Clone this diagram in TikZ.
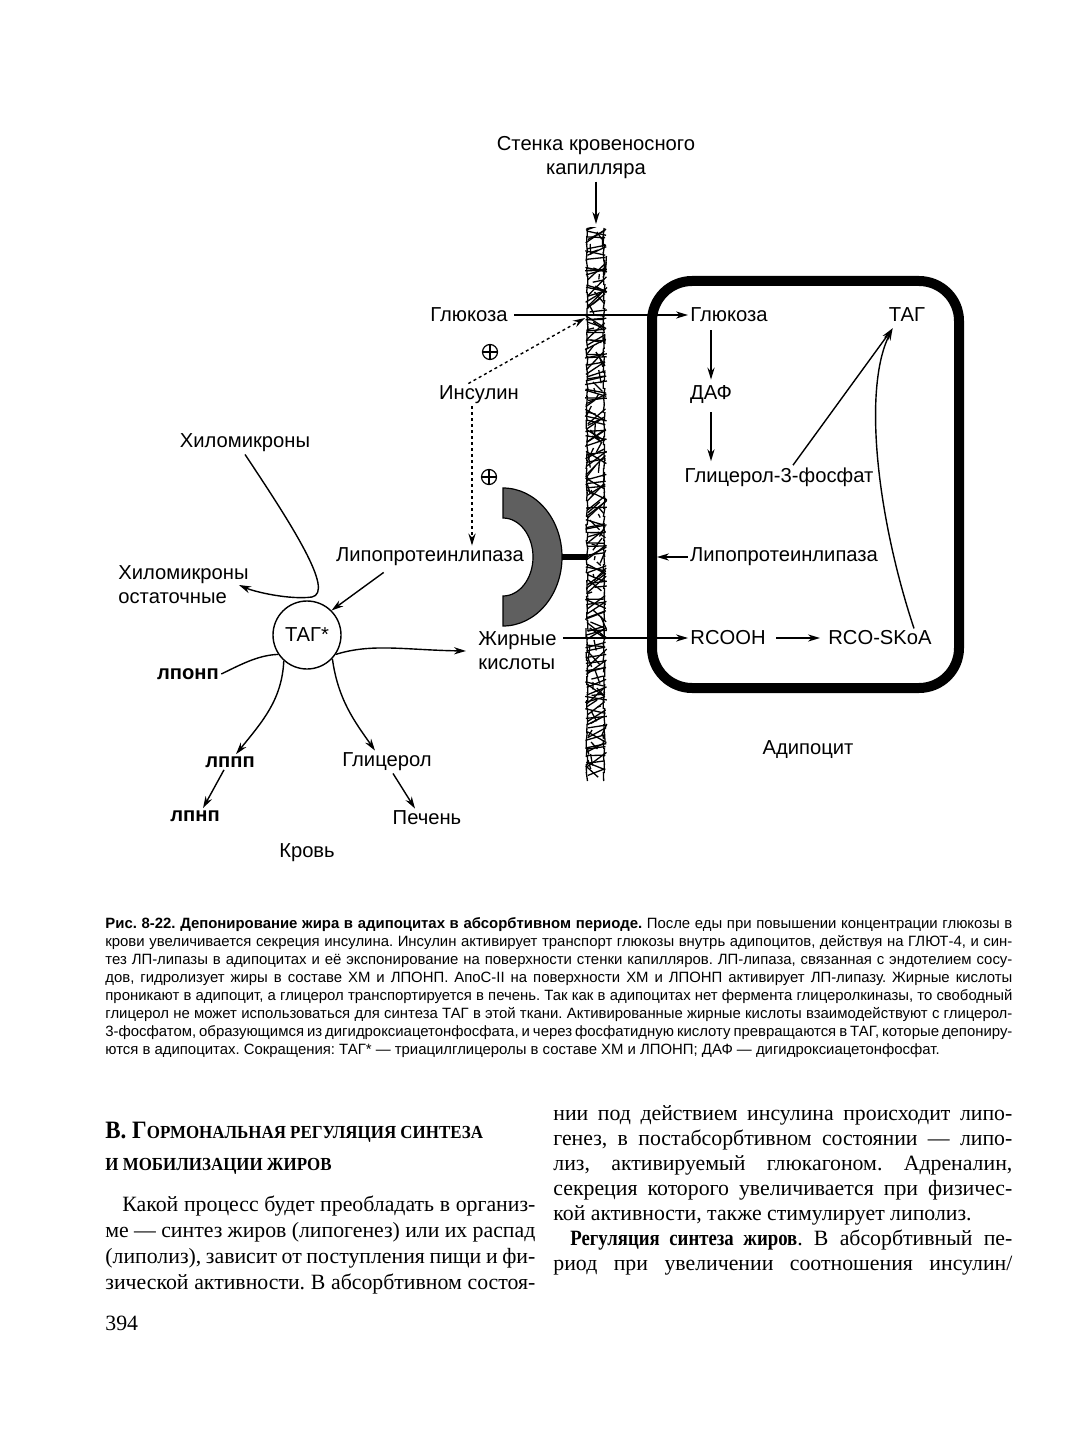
\documentclass[tikz,border=0pt]{standalone}
\usepackage{fontspec}
\setmainfont{Liberation Serif}
\setsansfont{Liberation Sans}
\newfontfamily\headfont{Liberation Serif}[FakeStretch=0.92]
\newfontfamily\runinfont{Liberation Serif}[FakeStretch=0.86]
\usetikzlibrary{arrows.meta}
\tolerance=9999
\hyphenpenalty=10000
\exhyphenpenalty=10000
\frenchspacing
\newcommand{\fulljust}{\hspace{0pt plus -1fil}\null}
\tikzset{
  lbl/.style={font=\sffamily\fontsize{10.1}{12}\selectfont, inner sep=1pt},
  boldlbl/.style={font=\sffamily\bfseries\fontsize{10.1}{12}\selectfont, inner sep=1pt},
  conn/.style={->, line width=0.7pt},
  insulin/.style={->, line width=0.7pt, dash pattern=on 1.5pt off 1.5pt},
  fibre/.style={line width=0.65pt},
  plus/.style={circle, draw, line width=0.6pt, minimum size=7.5pt, inner sep=0pt,
    path picture={\draw[line width=0.6pt] (path picture bounding box.north) -- (path picture bounding box.south)
      (path picture bounding box.west) -- (path picture bounding box.east);}},
  bodytext/.style={anchor=north west, inner sep=0pt, align=justify, font=\fontsize{10.9}{13}\selectfont}
}
\begin{document}
\begin{tikzpicture}[x=0.5pt, y=-0.5pt, >={Stealth[length=6pt,width=3.6pt]}]
			\definecolor{lipase}{RGB}{95,95,95}
			\useasboundingbox (0,0) rectangle (1077,1443);
			% capillary wall
			\node[lbl, align=center] (wall) at (596,158) {Стенка кровеносного\\капилляра};
			\coordinate (walltop) at (596,224);
			\draw[conn] (wall.south) -- (walltop);
			\begin{scope}
				\clip (583,228) rectangle (608,781);
				\pgfmathsetseed{11}
				\foreach \k in {0,...,136}
					\draw[fibre] ({585+3*rnd},{226+4*\k+6*rnd}) -- ({607-3*rnd},{211+4*\k+30*rnd});
				\foreach \k in {0,...,90}
					\draw[fibre] ({585+22*rnd},{226+6*\k}) -- ({585+22*rnd},{226+6*\k+14*rnd});
				\foreach \k in {0,...,68}
					\draw[fibre] ({586+2*rnd},{228+8*\k}) -- ({586+2*rnd},{237+8*\k})
						({605-2*rnd},{228+8*\k}) -- ({605-2*rnd},{237+8*\k});
			\end{scope}
			% adipocyte
			\draw[line width=5pt, rounded corners=20pt] (652,281) rectangle (959,688);
			% lipoprotein lipase on the wall
			\filldraw[fill=lipase, line width=0.6pt] (503,488) arc[start angle=-90, end angle=90, x radius=59, y radius=69]
				-- (503,596) arc[start angle=90, end angle=-90, x radius=30, y radius=39] -- cycle;
			\draw[line width=3pt] (562,557) -- (588,557);
			% blood side
			\node[lbl] (glc1) at (469,315) {Глюкоза};
			\node[plus] (plus1) at (490,352) {};
			\node[lbl] (ins) at (479,395) {Инсулин};
			\node[plus] (plus2) at (489,477) {};
			\node[lbl] (lpl1) at (430,557) {Липопротеинлипаза};
			\node[lbl] (chylo) at (245,443) {Хиломикроны};
			\node[lbl, align=left, anchor=west] (remn) at (116,585) {Хиломикроны\\остаточные};
			\node[lbl, circle, draw, line width=0.7pt, minimum size=34pt] (tag1) at (307,635) {ТАГ*};
			\node[boldlbl] (lponp) at (188,674) {лпонп};
			\node[boldlbl] (lppp) at (230,762) {лппп};
			\node[boldlbl] (lpnp) at (195,816) {лпнп};
			\node[lbl] (glyc) at (387,762) {Глицерол};
			\node[lbl] (liver) at (427,818) {Печень};
			\node[lbl] (blood) at (307,853) {Кровь};
			\node[lbl, align=left, anchor=west] (fa) at (476,651) {Жирные\\кислоты};
			% adipocyte side
			\node[lbl] (glc2) at (729,315) {Глюкоза};
			\node[lbl] (tag2) at (907,315) {ТАГ};
			\node[lbl] (daf) at (711,395) {ДАФ};
			\node[lbl] (g3p) at (779,477) {Глицерол-3-фосфат};
			\node[lbl] (lpl2) at (784,557) {Липопротеинлипаза};
			\node[lbl] (rcooh) at (728,638) {RCOOH};
			\node[lbl] (rcoskoa) at (880,638) {RCO-SKoA};
			\node[lbl] (adip) at (808,750) {Адипоцит};
			\coordinate (glcwall) at (585,318);
			\coordinate (cellL) at (657,557);
			% connectors
			\draw[conn, line width=0.6pt, shorten <=2pt] (glc1.east) -- (glc2.west);
			\draw[insulin] (ins.133) -- (glcwall);
			\draw[insulin] ([xshift=-3.5pt]ins.south) -- ([xshift=-3.5pt]ins.south |- lpl1.north);
			\draw[conn] ([xshift=25pt,yshift=-2pt]lpl1.south west) -- (tag1.45);
			\draw[conn] (chylo.south) .. controls (292,525) and (335,592) .. (312,597)
				.. controls (290,600) and (255,592) .. ([xshift=-6pt]remn.east);
			\draw[line width=0.7pt] (lponp.east) .. controls (240,665) and (258,655) .. (tag1.214);
			\draw[conn] (tag1.228) .. controls (282,700) and (262,722) .. ([xshift=3pt]lppp.north);
			\draw[conn] ([xshift=-3pt]lppp.south) -- ([xshift=4pt]lpnp.north);
			\draw[conn] (tag1.-43) .. controls (338,700) and (355,722) .. ([xshift=-6pt]glyc.north);
			\draw[conn] ([xshift=3pt]glyc.south) -- ([xshift=-6pt]liver.north);
			\draw[conn] (tag1.-34) .. controls (372,643) and (405,650) .. ([xshift=-5pt]fa.west);
			\draw[conn, line width=0.6pt, shorten <=2pt] (fa.east |- rcooh.west) -- (rcooh.west);
			\draw[conn, shorten <=4pt, shorten >=3pt] (rcooh.east) -- (rcoskoa.west);
			\draw[conn, line width=0.6pt] (lpl2.west) -- (cellL);
			\draw[conn] ([yshift=-3pt]glc2.south -| daf.north) -- ([yshift=2pt]daf.north);
			\draw[conn] ([yshift=-3pt]daf.south) -- ([yshift=2pt]daf.south |- g3p.north);
			\draw[conn] ([xshift=7pt]g3p.north) -- ([shift={(3pt,-2pt)}]tag2.south west);
			\draw[conn] ([xshift=17pt]rcoskoa.north) .. controls (878,520) and (862,390) .. ([shift={(3pt,-2pt)}]tag2.south west);
			% caption
			\node[anchor=north west, inner sep=0pt, text width=453.5pt, align=justify, font=\sffamily\fontsize{7.45}{9}\selectfont] (caption) at (105,917)
				{\textbf{Рис. 8-22. Депонирование жира в адипоцитах в абсорбтивном периоде.} После еды при повышении концентрации глюкозы в\linebreak
				крови увеличивается секреция инсулина. Инсулин активирует транспорт глюкозы внутрь адипоцитов, действуя на ГЛЮТ-4, и син-\linebreak
				тез ЛП-липазы в адипоцитах и её экспонирование на поверхности стенки капилляров. ЛП-липаза, связанная с эндотелием сосу-\linebreak
				дов, гидролизует жиры в составе ХМ и ЛПОНП. АпоС-II на поверхности ХМ и ЛПОНП активирует ЛП-липазу. Жирные кислоты\linebreak
				проникают в адипоцит, а глицерол транспортируется в печень. Так как в адипоцитах нет фермента глицеролкиназы, то свободный\linebreak
				глицерол не может использоваться для синтеза ТАГ в этой ткани. Активированные жирные кислоты взаимодействуют с глицерол-\linebreak
				3-фосфатом, образующимся из дигидроксиацетонфосфата, и через фосфатидную кислоту превращаются в ТАГ, которые депониру-\linebreak
				ются в адипоцитах. Сокращения: ТАГ* — триацилглицеролы в составе ХМ и ЛПОНП; ДАФ — дигидроксиацетонфосфат.};
			% section heading
			\node[anchor=base west, inner sep=0pt, font=\headfont\bfseries\fontsize{12.5}{14}\selectfont] (head1) at (105,1138)
				{В. Г{\fontsize{9.2}{11}\selectfont ОРМОНАЛЬНАЯ РЕГУЛЯЦИЯ СИНТЕЗА}};
			\node[anchor=base west, inner sep=0pt, font=\headfont\bfseries\fontsize{9.2}{11}\selectfont] (head2) at (105,1170)
				{И МОБИЛИЗАЦИИ ЖИРОВ};
			% two columns
			\node[bodytext, text width=215pt] (colA) at (105,1195)
				{\hspace*{8.5pt}Какой процесс будет преобладать в организ-\linebreak
				ме — синтез жиров (липогенез) или их распад\linebreak
				(липолиз), зависит от поступления пищи и фи-\linebreak
				зической активности. В абсорбтивном состоя-\fulljust};
			\node[bodytext, text width=229.5pt, font=\fontsize{10.9}{12.5}\selectfont] (colB) at (553,1105)
				{нии под действием инсулина происходит липо-\linebreak
				генез, в постабсорбтивном состоянии — липо-\linebreak
				лиз, активируемый глюкагоном. Адреналин,\linebreak
				секреция которого увеличивается при физичес-\linebreak
				кой активности, также стимулирует липолиз.\newline
				\hspace*{8.5pt}{\runinfont\bfseries Регуляция синтеза жиров}. В абсорбтивный пе-\linebreak
				риод при увеличении соотношения инсулин/\fulljust};
			\node[anchor=base west, inner sep=0pt, font=\fontsize{10.9}{12}\selectfont] (pagenum) at (105,1330) {394};
		\end{tikzpicture}
\end{document}
